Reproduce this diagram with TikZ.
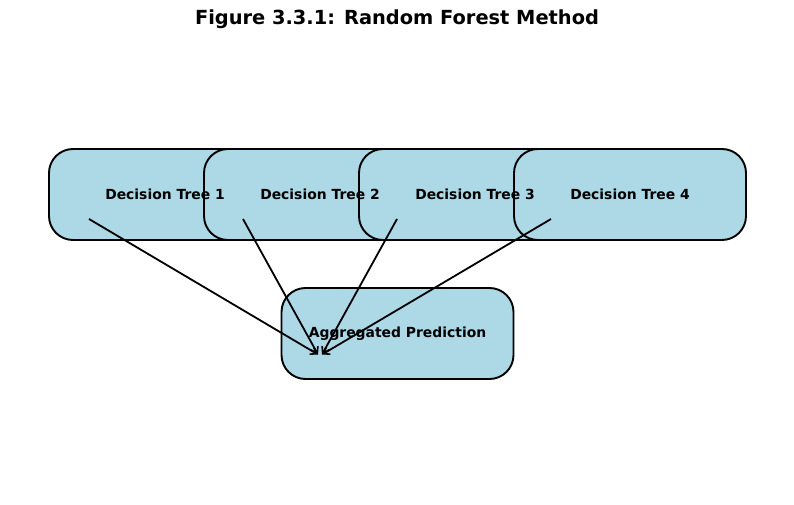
\documentclass[tikz,border=0pt]{standalone}
\usepackage{fontspec}
\setmainfont{DejaVu Sans}
\usepackage{xcolor}
\usepackage{tikz}
\usetikzlibrary{arrows.meta,calc,positioning}
\definecolor{leafblue}{HTML}{ADD8E6}

\begin{document}
\begin{tikzpicture}[x=1pt,y=-1pt,
    treebox/.style={draw=black,line width=1.9pt,fill=leafblue,rounded corners=24pt,
      minimum width=232pt,minimum height=91pt,inner sep=0pt},
    boxtext/.style={font=\fontsize{13.9}{16}\selectfont\bfseries},
    vote/.style={-{Straight Barb[length=6pt,width=8pt,line width=1.6pt]},line width=1.8pt}]
        \useasboundingbox (0,0) rectangle (794,505);
        \node[font=\fontsize{19.4}{23}\selectfont\bfseries] (title) at (397,19) {Figure 3.3.1: Random Forest Method};
        % trees, drawn first so the labels sit on top
        \foreach \i/\x in {1/165,2/320,3/475,4/630}{
          \node[treebox] (t\i) at (\x,194.5) {};
        }
        \node[treebox] (agg) at (397.5,333.5) {};
        \foreach \i in {1,...,4}{
          \node[boxtext] (l\i) at (t\i.center) {Decision Tree \i};
        }
        \node[boxtext] (lagg) at (agg.center) {Aggregated Prediction};
        \coordinate (tipl) at ($(agg.center)+(-79.5,21)$);
        \coordinate (tipr) at ($(agg.center)+(-75.5,21)$);
        \foreach \i/\dx in {1/-76,2/-77,3/-78,4/-79}{
          \coordinate (s\i) at ($(t\i.center)+(\dx,24.5)$);
        }
        \draw[vote] (s1) -- (tipl);
        \draw[vote] (s2) -- (tipl);
        \draw[vote] (s3) -- (tipr);
        \draw[vote] (s4) -- (tipr);
\end{tikzpicture}
\end{document}
